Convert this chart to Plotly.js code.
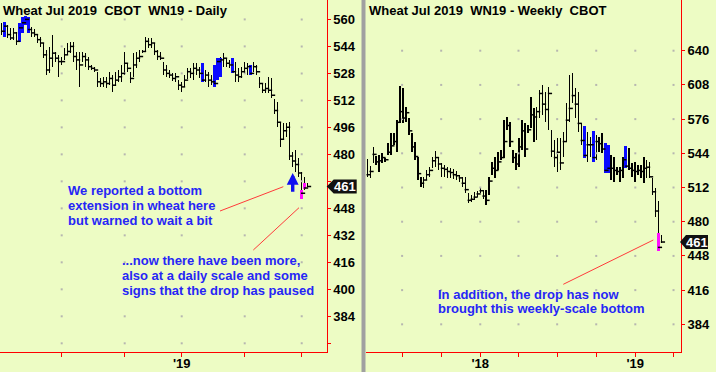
<!DOCTYPE html>
<html><head><meta charset="utf-8">
<script src="https://cdn.plot.ly/plotly-3.0.1.min.js"></script>
<style>html,body{margin:0;padding:0;background:#EDFCC4;} #chart{width:716px;height:372px;}</style>
</head><body><div id="chart"></div>
<script>
// ---------- DAILY (WN19) ----------
const dailyStart = '2018-10-04';
const dailyHolidays = ['2018-11-22','2018-12-05','2018-12-25','2019-01-01','2019-01-21','2019-02-18'];
const dailyHigh = [557.7,558.7,556.7,554.7,554.7,552.7,557.7,561.6,562.3,561.6,555.7,554.1,550.8,549.8,545.8,541.9,543.8,550.8,540.9,538.9,
  537.9,542.9,545.8,546.8,546.8,540.9,540.9,540.9,539.9,537.9,533.0,532.0,529.0,525.1,526.1,526.1,529.0,527.1,529.0,530.0,
  533.0,540.9,534.0,529.0,539.9,540.9,541.9,541.9,549.8,548.8,548.8,545.8,541.9,540.9,534.9,533.0,530.0,528.0,528.0,524.1,
  523.1,527.1,531.0,531.0,534.0,534.0,532.0,534.0,530.0,529.0,527.1,533.0,537.0,537.9,539.9,536.9,535.9,536.9,535.0,531.0,
  532.0,535.0,534.0,533.0,535.0,533.0,526.1,522.1,522.1,526.1,525.0,513.0,511.2,499.4,498.4,498.4,499.4,481.6,482.6,477.8,
  469.7,466.8,463.0];
const dailyLow = [550.8,549.8,548.8,547.8,547.8,544.8,546.8,551.7,556.7,551.7,549.8,549.8,545.8,543.8,536.9,527.1,528.0,532.0,534.9,526.1,
  533.0,535.9,538.9,539.9,535.0,530.0,519.8,535.0,532.0,530.0,530.0,529.0,519.8,519.8,519.8,519.2,521.1,517.2,520.5,523.1,
  523.1,527.1,529.0,522.1,526.1,531.0,535.0,539.9,540.9,542.9,542.9,538.9,535.9,535.9,527.1,526.1,525.1,523.7,523.1,518.2,
  517.2,520.1,524.5,525.1,524.1,527.1,525.1,523.1,523.1,520.1,521.1,520.1,524.1,526.0,532.0,532.0,531.0,528.0,523.1,523.1,
  525.1,528.0,527.1,527.1,529.0,527.1,519.6,516.2,516.2,516.2,513.2,504.0,496.4,484.5,488.5,490.5,476.7,472.7,469.7,466.8,
  453.4,458.9,460.5];
const dailyClose = [553,556,551,549,552,547,555,558,560,554,552,551,548,546,539,530,537,540,537,535,
  535,539,541,544,538,536,533,538,536,532,531,530,523,522,523,522,525,521,524,526,
  528,534,531,525,533,537,538,541,547,545,546,541,538,537,530,528,527,525,526,521,
  520,524,529,528,531,530,528,524,527,524,523,522,535,536,537,534,533,529,527,526,
  529,531,532,528,532,529,522,518,519,518,515,506,499,489,494,496,479,476,474,469,
  457,460,461];
// signal bars (coloured bodies) on the daily chart
const dailySigIdx = [1,6,7,8,9,67,71,72,73,77,83,100,101];
const dailySigTop = [558.7,557.7,561.6,562.3,561.6,534.0,533.0,537.0,537.0,537.0,533.0,458.9,462.9];
const dailySigBot = [549.8,546.8,551.7,556.7,551.7,523.1,520.1,524.1,526.0,528.0,527.1,453.4,459.3];
const dailySigColor = ['#0A0AFF','#0A0AFF','#0A0AFF','#0A0AFF','#0A0AFF','#0A0AFF','#0A0AFF','#0A0AFF','#0A0AFF','#0A0AFF','#0A0AFF','#FF10FF','#FF10FF'];
const dailyArrowIdx = 97, dailyArrowTip = 469, dailyArrowBase = 457;
const dailyYTicks = [368,384,400,416,432,448,464,480,496,512,528,544,560];

// ---------- WEEKLY (WN19) ----------
const weeklyStart = '2017-04-10';
const weeklyHigh = [538.7,532.0,550.2,541.5,542.4,544.0,539.3,553.3,562.7,562.7,575.2,607.0,604.8,587.6,576.7,562.7,554.9,540.9,522.1,522.1,
  528.4,531.5,540.9,546.5,539.3,534.6,533.0,531.5,529.9,529.0,527.8,523.7,522.1,522.1,506.6,505.0,508.0,509.0,512.8,510.0,
  509.7,522.1,536.2,540.8,545.5,547.1,575.2,578.3,573.6,547.1,544.0,558.0,575.2,572.1,570.5,597.0,586.0,587.6,603.2,607.9,
  601.7,606.3,565.8,556.4,558.0,558.0,564.2,590.8,617.3,619.4,604.8,601.7,572.1,569.5,564.2,559.6,564.9,561.1,559.6,562.7,
  553.3,551.8,542.4,540.8,531.5,531.5,540.8,550.8,548.6,534.6,536.2,533.0,533.0,540.8,537.7,536.0,520.6,511.3,499.0,467.6];
const weeklyLow = [521.5,520.6,534.6,533.0,526.8,534.6,536.2,542.4,542.4,551.8,545.5,572.0,572.0,573.6,561.1,545.5,537.8,519.0,512.8,511.2,
  519.0,522.1,530.0,531.5,528.4,522.1,522.1,520.6,520.6,519.7,519.0,517.5,512.8,506.6,497.2,498.7,500.3,503.0,506.5,501.0,
  495.6,505.0,523.7,520.6,528.4,537.7,539.3,565.8,550.2,534.6,528.4,531.5,547.1,540.8,562.7,567.4,554.9,556.4,576.7,579.8,
  573.6,565.8,540.8,531.5,526.8,528.4,540.8,554.9,573.6,590.8,576.7,564.2,551.8,540.0,536.2,540.8,536.2,537.7,545.5,544.0,
  525.3,525.3,519.0,517.5,523.7,517.5,520.6,529.9,528.4,522.1,517.5,523.7,520.6,515.9,520.6,520.6,505.0,484.7,452.9,460.4];
const weeklyClose = [524,527,543,536,537,540,538,545,551,555,573,583,577,582,565,550,541,525,516,519,
  524,528,537,540,534,530,529,527,526,524,523,521,516,510,500,501,503,506,509,504,
  500,518,530,528,536,540,555,570,555,540,534,550,565,548,566,580,578,583,600,590,
  585,600,546,540,545,535,555,575,586,598,590,572,556,542,552,552,540,555,553,548,
  528,530,530,528,527,528,538,532,530,528,527,528,527,530,531,522,508,490,456,461];
const weeklySigIdx = [73,76,80,81,87,98];
const weeklySigTop = [569.5,564.9,553.3,551.8,550.8,469.2];
const weeklySigBot = [540.0,536.2,525.3,525.3,529.9,452.9];
const weeklySigColor = ['#0A0AFF','#0A0AFF','#0A0AFF','#0A0AFF','#0A0AFF','#FF10FF'];
const weeklyYTicks = [384,416,448,480,512,544,576,608,640];

const titleLeft = 'Wheat Jul 2019\u00a0\u00a0CBOT\u00a0\u00a0WN19 - Daily';
const titleRight = 'Wheat Jul 2019\u00a0\u00a0WN19 - Weekly\u00a0\u00a0CBOT';
const noteA = ['We reported a bottom','extension in wheat here','but warned to wait a bit'];
const noteB = ['...now there have been more,','also at a daily scale and some','signs that the drop has paused'];
const noteC = ['In addition, the drop has now','brought this weekly-scale bottom'];

// ---------- helpers ----------
function tradingDays(start, n, hol){
  const out=[]; const d=new Date(start+'T00:00:00Z');
  while(out.length<n){
    const s=d.toISOString().slice(0,10), w=d.getUTCDay();
    if(w!==0 && w!==6 && !hol.includes(s)) out.push(s);
    d.setUTCDate(d.getUTCDate()+1);
  }
  return out;
}
function weeks(start, n){
  const out=[]; const d=new Date(start+'T00:00:00Z');
  for(let i=0;i<n;i++){ out.push(d.toISOString().slice(0,10)); d.setUTCDate(d.getUTCDate()+7); }
  return out;
}
const DAY = 86400000;
const W = 716, H = 372, PH = 352;
const px = v => v / W, py = v => 1 - v / PH;

const dDates = tradingDays(dailyStart, dailyHigh.length, dailyHolidays);
const dIdx = dDates.map((_, i) => i);
const dTickVals = [], dTickText = [];
dDates.forEach((s, i) => { if (i > 0 && s.slice(5,7) !== dDates[i-1].slice(5,7)) { dTickVals.push(i); dTickText.push(s.slice(5,7) === '01' ? "'" + s.slice(2,4) : ''); } });

const wDates = weeks(weeklyStart, weeklyHigh.length);
const wMs = wDates.map(s => Date.parse(s));
const wTickVals = [], wTickText = [];
{
  const d = new Date(Date.UTC(2017, 3, 1));
  const end = Date.parse('2019-04-18');
  while (d.getTime() <= end) {
    if (d.getTime() > wMs[0] && d.getUTCMonth() % 3 === 0) {
      wTickVals.push(d.toISOString().slice(0,10));
      wTickText.push(d.getUTCMonth() === 0 ? "'" + String(d.getUTCFullYear()).slice(2) : '');
    }
    d.setUTCMonth(d.getUTCMonth() + 1);
  }
}

const BG = '#EDFCC4';
const FONT = 'Liberation Sans, Arial, sans-serif';
const BLACK = '#000000';

const traces = [];
// grid dots
function dots(xs, ys, xa, ya){
  const X=[],Y=[]; xs.forEach(x=>ys.forEach(y=>{X.push(x);Y.push(y);}));
  return {type:'scatter',mode:'markers',x:X,y:Y,xaxis:xa,yaxis:ya,marker:{size:2,color:'#b6b6b0',symbol:'square'},hoverinfo:'skip'};
}
traces.push(dots(dTickVals, dailyYTicks, 'x', 'y'));
traces.push(dots(wTickVals, weeklyYTicks, 'x2', 'y2'));

// daily bars
traces.push({type:'bar', x:dIdx, base:dailyLow, y:dailyHigh.map((h,i)=>h-dailyLow[i]), width:0.5,
  marker:{color:BLACK,line:{width:0}}, xaxis:'x', yaxis:'y', hoverinfo:'skip'});
traces.push({type:'bar', x:dailySigIdx, base:dailySigBot, y:dailySigTop.map((t,i)=>t-dailySigBot[i]), width:1.0,
  marker:{color:dailySigColor,line:{width:0}}, xaxis:'x', yaxis:'y', hoverinfo:'skip'});
traces.push({type:'scatter', mode:'markers', x:dIdx.map(i=>i+0.45), y:dailyClose,
  marker:{symbol:'line-ew', size:3, line:{width:1.5,color:BLACK}}, xaxis:'x', yaxis:'y', hoverinfo:'skip'});

// weekly bars
traces.push({type:'bar', x:wDates, base:weeklyLow, y:weeklyHigh.map((h,i)=>h-weeklyLow[i]), width:3.4*DAY,
  marker:{color:BLACK,line:{width:0}}, xaxis:'x2', yaxis:'y2', hoverinfo:'skip'});
traces.push({type:'bar', x:weeklySigIdx.map(i=>wDates[i]), base:weeklySigBot, y:weeklySigTop.map((t,i)=>t-weeklySigBot[i]), width:7*DAY,
  marker:{color:weeklySigColor,line:{width:0}}, xaxis:'x2', yaxis:'y2', hoverinfo:'skip'});
traces.push({type:'scatter', mode:'markers', x:wMs.map(m=>m+3.1*DAY), y:weeklyClose,
  marker:{symbol:'line-ew', size:3, line:{width:1.5,color:BLACK}}, xaxis:'x2', yaxis:'y2', hoverinfo:'skip'});

const tickFont = {family:FONT, size:13, color:'#000', weight:'bold'};
const axCommon = {showgrid:false, zeroline:false, showline:true, linecolor:'#FF0000', linewidth:1,
  ticks:'outside', tickcolor:'#FF0000', tickwidth:1, tickfont:tickFont, fixedrange:true};

const lastD = dailyClose[dailyClose.length-1], lastW = weeklyClose[weeklyClose.length-1];
const leftEdge = 326.7, rightEdge = 681;

const annFont = {family:FONT, size:13, color:'#2626F6', weight:'bold'};
const annotations = [];
function line(txt, x, y, font){ annotations.push({xref:'paper', yref:'paper', x:px(x), y:py(y), xanchor:'left', yanchor:'middle', text:txt, showarrow:false, font:font}); }
line(titleLeft, 1, 10.5, {family:FONT, size:13, color:'#000', weight:'bold'});
line(titleRight, 367, 10.5, {family:FONT, size:13, color:'#000', weight:'bold'});
noteA.forEach((t,k)=>line(t, 66, 190.5 + 15*k, annFont));
noteB.forEach((t,k)=>line(t, 120, 260.5 + 15*k, annFont));
noteC.forEach((t,k)=>line(t, 436, 294 + 14.3*k, annFont));
// price labels
annotations.push({xref:'paper', yref:'y', x:px(leftEdge+5), y:lastD, xanchor:'left', yanchor:'middle', text:String(lastD), showarrow:false,
  font:{family:FONT, size:13, color:'#fff', weight:'bold'}});
annotations.push({xref:'paper', yref:'y2', x:px(rightEdge+3), y:lastW, xanchor:'left', yanchor:'middle', text:String(lastW), showarrow:false,
  font:{family:FONT, size:13, color:'#fff', weight:'bold'}});
// blue arrow
annotations.push({xref:'x', yref:'y', x:dailyArrowIdx, y:dailyArrowTip, axref:'x', ayref:'y', ax:dailyArrowIdx, ay:dailyArrowBase,
  text:'', showarrow:true, arrowhead:2, arrowsize:0.7, arrowwidth:3.4, arrowcolor:'#1010F0', standoff:0, startstandoff:0});

const shapes = [
  {type:'rect', xref:'paper', yref:'paper', x0:px(361.5), x1:px(365.5), y0:-20/PH, y1:1, fillcolor:'#a0a0a0', line:{width:0}, layer:'above'},
  {type:'line', xref:'paper', yref:'paper', x0:px(220), y0:py(211), x1:px(283.3), y1:py(186.7), line:{color:'#FF3A3A', width:1}},
  {type:'line', xref:'paper', yref:'paper', x0:px(253.3), y0:py(250), x1:px(299), y1:py(207.7), line:{color:'#FF3A3A', width:1}},
  {type:'line', xref:'paper', yref:'paper', x0:px(563.3), y0:py(284.3), x1:px(653.3), y1:py(240), line:{color:'#FF3A3A', width:1}},
  {type:'path', xref:'paper', yref:'y', xsizemode:'pixel', ysizemode:'pixel', xanchor:px(leftEdge), yanchor:lastD,
   path:'M0,0 L7,7 L30,7 L30,-7 L7,-7 Z', fillcolor:'#111111', line:{width:0}, layer:'above'},
  {type:'path', xref:'paper', yref:'y2', xsizemode:'pixel', ysizemode:'pixel', xanchor:px(rightEdge-1), yanchor:lastW,
   path:'M0,0 L6,7 L28,7 L28,-7 L6,-7 Z', fillcolor:'#111111', line:{width:0}, layer:'above'}
];

const layout = {
  width:W, height:H, margin:{l:0,r:0,t:0,b:20,pad:0},
  paper_bgcolor:BG, plot_bgcolor:BG, showlegend:false, hovermode:false, barmode:'overlay', bargap:0,
  xaxis: Object.assign({}, axCommon, {domain:[0, px(leftEdge)], range:[-0.567, 108.33], tickvals:dTickVals, ticktext:dTickText, ticklen:4, ticklabelstandoff:-5, anchor:'y'}),
  yaxis: Object.assign({}, axCommon, {domain:[0,1], range:[362.85, 571.5], side:'right', anchor:'x', tickvals:dailyYTicks,
    ticktext:dailyYTicks.map(v=> (v===368 || v===464) ? '' : String(v)), ticklen:3}),
  xaxis2: Object.assign({}, axCommon, {type:'date', domain:[px(366), px(rightEdge)], range:['2017-04-07','2019-04-18 14:00'],
    tickvals:wTickVals, ticktext:wTickText, ticklen:4, ticklabelstandoff:-5, anchor:'y2'}),
  yaxis2: Object.assign({}, axCommon, {domain:[0,1], range:[358.1, 687.44], side:'right', anchor:'x2', tickvals:weeklyYTicks,
    ticktext:weeklyYTicks.map(String), ticklen:3}),
  annotations: annotations, shapes: shapes
};
Plotly.newPlot('chart', traces, layout, {staticPlot:true, displayModeBar:false});
</script></body></html>
